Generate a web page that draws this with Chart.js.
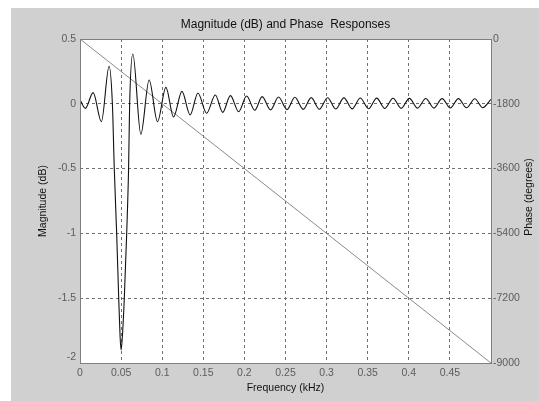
<!DOCTYPE html>
<html>
<head>
<meta charset="utf-8">
<script src="https://cdn.jsdelivr.net/npm/chart.js@4/dist/chart.umd.min.js"></script>
<style>
  html, body { margin: 0; background: #fff; }
  #wrap { position: absolute; left: 11px; top: 8px; width: 528px; height: 393px; background: #d0d0d0; }
  canvas { display: block; }
</style>
</head>
<body>
<div id="wrap"><canvas id="resp" width="528" height="393"></canvas></div>
<script>
// Respuesta en magnitud (dB) y fase del filtro — eje izquierdo dB, eje derecho grados

const MAG_FREQ = [
  0, 0.0065, 0.016, 0.026, 0.0354,
  0.0394, 0.0417, 0.0446, 0.0471, 0.0488, 0.05, 0.0515, 0.0539, 0.0568, 0.0591, 0.0604,
  0.0643, 0.074, 0.0841, 0.0943, 0.1045, 0.1138, 0.124, 0.134, 0.1435, 0.154,
  0.1646, 0.1736, 0.183, 0.193, 0.2027, 0.2126, 0.2216, 0.2318, 0.2415, 0.2518,
  0.2614, 0.2715, 0.2813, 0.2912, 0.3012, 0.311, 0.3211, 0.331, 0.341, 0.351,
  0.3609, 0.3708, 0.3808, 0.3908, 0.4007, 0.4107, 0.4206, 0.4306, 0.4405, 0.4505,
  0.4604, 0.4703, 0.4803, 0.49, 0.5,
];
const MAG_DB = [
  0.03, -0.035, 0.086, -0.138, 0.29,
  0.0, -0.5, -1.0, -1.5, -1.8, -1.9, -1.8, -1.5, -1.0, -0.5, 0.0,
  0.384, -0.235, 0.184, -0.138, 0.127, -0.102, 0.096, -0.086, 0.083, -0.073,
  0.068, -0.066, 0.063, -0.061, 0.06, -0.05, 0.055, -0.047, 0.052, -0.045,
  0.05, -0.043, 0.048, -0.042, 0.047, -0.04, 0.046, -0.039, 0.045, -0.038,
  0.044, -0.036, 0.043, -0.035, 0.042, -0.034, 0.041, -0.033, 0.04, -0.032,
  0.04, -0.031, 0.039, -0.03, 0.035,
];
const PHASE_FREQ = [0, 0.5];
const PHASE_DEG = [0, -9000];

const X_TICKS = [0, 0.05, 0.1, 0.15, 0.2, 0.25, 0.3, 0.35, 0.4, 0.45, 0.5];
const X_TICK_LABELS = ["0", "0.05", "0.1", "0.15", "0.2", "0.25", "0.3", "0.35", "0.4", "0.45", ""];
const DB_TICKS = [-2, -1.5, -1, -0.5, 0, 0.5];
const DB_TICK_LABELS = [["-2", ""], "-1.5", "-1", "-0.5", "0", "0.5"];
const DEG_TICKS = [-9000, -7200, -5400, -3600, -1800, 0];
const DEG_TICK_LABELS = ["-9000", "-7200", "-5400", "-3600", "-1800", "0"];

const TITLE = "Magnitude (dB) and Phase  Responses";
const FONT = "'Liberation Sans', Arial, sans-serif";
const TICK_COLOR = "#5c5c5c";
const GRID_COLOR = "#707070";

const zip = (xs, ys) => xs.map((x, i) => ({ x, y: ys[i] }));
const fixTicks = (vals) => (s) => { s.ticks = vals.map((v) => ({ value: v })); };

// fondo blanco del área, marco gris y textos que Chart.js no pone como queremos
const marco = {
  id: "marco",
  beforeDraw(chart) {
    const { ctx, chartArea: a } = chart;
    ctx.save();
    ctx.fillStyle = "#fff";
    ctx.fillRect(a.left, a.top, a.right - a.left, a.bottom - a.top);
    ctx.restore();
  },
  afterDraw(chart) {
    const { ctx, chartArea: a } = chart;
    ctx.save();
    ctx.strokeStyle = "#7f7f7f";
    ctx.lineWidth = 1;
    ctx.strokeRect(a.left + 0.5, a.top + 0.5, a.right - a.left, a.bottom - a.top);

    ctx.fillStyle = "#111";
    ctx.textAlign = "center";
    ctx.textBaseline = "middle";
    ctx.font = `12px ${FONT}`;
    ctx.fillText(TITLE, (a.left + a.right) / 2, 16.5);

    ctx.font = `10.5px ${FONT}`;
    ctx.translate(518, 189);
    ctx.rotate(-Math.PI / 2);
    ctx.fillText("Phase (degrees)", 0, 0);
    ctx.restore();
  },
};

const edgeGrid = (ctx) =>
  ctx.tick && (ctx.tick.value === 0 || ctx.tick.value === 0.5) ? "rgba(0,0,0,0)" : GRID_COLOR;

new Chart(document.getElementById("resp"), {
  type: "line",
  data: {
    datasets: [
      {
        label: "Magnitude",
        data: zip(MAG_FREQ, MAG_DB),
        yAxisID: "y",
        borderColor: "#111",
        borderWidth: 1.1,
        pointRadius: 0,
        cubicInterpolationMode: "monotone",
      },
      {
        label: "Phase",
        data: zip(PHASE_FREQ, PHASE_DEG),
        yAxisID: "y1",
        borderColor: "#8a8a8a",
        borderWidth: 1,
        pointRadius: 0,
      },
    ],
  },
  options: {
    responsive: false,
    animation: false,
    devicePixelRatio: 1,
    layout: { padding: { top: 31, left: 0, right: 0, bottom: 0 } },
    plugins: { legend: { display: false }, title: { display: false }, tooltip: { enabled: false } },
    scales: {
      x: {
        type: "linear",
        min: 0,
        max: 0.5,
        afterBuildTicks: fixTicks(X_TICKS),
        afterFit: (s) => { s.height = 38; },
        ticks: {
          callback: (v, i) => X_TICK_LABELS[i],
          color: TICK_COLOR,
          font: { family: FONT, size: 10.5 },
          padding: 4,
          maxRotation: 0,
          autoSkip: false,
        },
        grid: { color: edgeGrid, drawTicks: false },
        border: { display: false, dash: [3, 3] },
        title: {
          display: true,
          text: "Frequency (kHz)",
          color: "#111",
          font: { family: FONT, size: 10.5 },
          padding: { top: 0, bottom: 7 },
        },
      },
      y: {
        position: "left",
        min: -2,
        max: 0.5,
        afterBuildTicks: fixTicks(DB_TICKS),
        afterFit: (s) => { s.width = 69; },
        ticks: {
          callback: (v, i) => DB_TICK_LABELS[i],
          color: TICK_COLOR,
          font: { family: FONT, size: 10.5 },
          padding: 4,
          autoSkip: false,
        },
        grid: {
          color: (ctx) => (ctx.tick && (ctx.tick.value === 0.5 || ctx.tick.value === -2) ? "rgba(0,0,0,0)" : GRID_COLOR),
          drawTicks: false,
        },
        border: { display: false, dash: [3, 3] },
        title: {
          display: true,
          text: "Magnitude (dB)",
          color: "#111",
          font: { family: FONT, size: 10.5 },
          padding: { top: 26, bottom: 0 },
        },
      },
      y1: {
        position: "right",
        min: -9000,
        max: 0,
        afterBuildTicks: fixTicks(DEG_TICKS),
        afterFit: (s) => { s.width = 48; },
        ticks: {
          callback: (v, i) => DEG_TICK_LABELS[i],
          color: TICK_COLOR,
          font: { family: FONT, size: 10.5 },
          padding: 2,
          autoSkip: false,
        },
        grid: { display: false, drawTicks: false },
        border: { display: false },
      },
    },
  },
  plugins: [marco],
});
</script>
</body>
</html>
